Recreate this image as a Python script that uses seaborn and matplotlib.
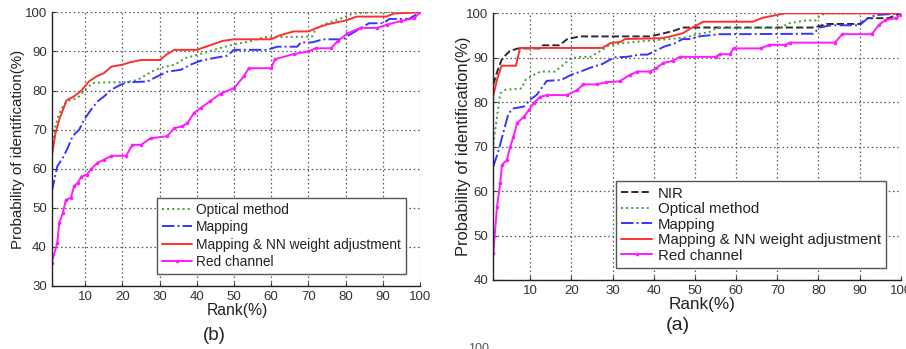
import numpy as np
import pandas as pd
import matplotlib
matplotlib.use("Agg")
import matplotlib.pyplot as plt
import seaborn as sns

# ---------------- data: panel (b) (left) ----------------
b_opt_x = [1, 2, 3, 4, 5, 8, 10, 12, 16, 21, 24, 25, 28, 30, 34, 37, 40, 43, 46, 50, 54, 58, 71, 72, 75, 79, 82, 88, 100]
b_opt_y = [64, 71, 74, 76, 77.2, 78.1, 80.2, 81.9, 82.1, 82.1, 82.7, 83.2, 84.9, 85.7, 86.6, 88.3, 89.1, 89.9, 90.8, 91.8, 92.5, 93.6, 93.8, 95.9, 97.2, 98.5, 99.7, 100, 100]

b_map_x = [1, 2.5, 4, 5.3, 6.6, 8.4, 9.7, 11.5, 13.3, 15.1, 17, 19.6, 21.4, 26.7, 29.4, 32, 35.7, 38.3, 41, 44.6, 48.2, 50, 59, 61.6, 67, 68, 71, 74, 79.5, 81, 83.6, 86.3, 90, 91.8, 97, 100]
b_map_y = [54, 60.6, 62.8, 65.3, 68.3, 70, 72.5, 75, 77.2, 78.5, 80.2, 81.5, 82.1, 82.3, 83.6, 84.8, 85.3, 86.6, 87.6, 88.3, 88.9, 90.4, 90.4, 91.2, 91.2, 92.3, 92.3, 93.1, 93.1, 94.2, 95.7, 97.2, 97.2, 98.3, 98.3, 100]

b_nn_x = [1, 2, 3, 5, 7, 9, 11, 13, 15, 17, 20, 22, 25, 30, 32, 34, 40, 44, 47, 50, 60, 62, 66, 70, 72, 75, 80, 83, 91, 93, 100]
b_nn_y = [63, 69, 72.5, 77.5, 78.5, 80, 82.3, 83.6, 84.4, 86.1, 86.6, 87.2, 87.8, 87.8, 89.3, 90.4, 90.4, 91.7, 92.7, 93.1, 93.1, 94, 95.1, 95.1, 95.9, 96.9, 97.9, 98.9, 98.9, 99.7, 100]

b_red_x = [1, 2.5, 3, 4, 4.8, 6.2, 7, 8, 9, 10.5, 11.5, 13.3, 15, 17, 21, 22.7, 25, 27.6, 32, 34, 36, 37.5, 39.2, 41, 43.5, 46.4, 50, 52.6, 54, 60, 61, 66, 70, 72, 76, 78, 80.5, 84, 88.5, 91, 95, 98.5, 100]
b_red_y = [36, 41, 46, 48.7, 52, 52.6, 55.5, 56.4, 58, 58.5, 59.8, 61.5, 62.3, 63.3, 63.3, 66.1, 66.1, 67.8, 68.3, 70.4, 70.8, 71.7, 74.2, 75.5, 77.2, 79.2, 80.6, 83.6, 85.7, 85.7, 88, 89.3, 90, 90.8, 90.8, 92.7, 94.6, 96, 96, 96.8, 97.8, 98.5, 100]

# ---------------- data: panel (a) (right) ----------------
a_nir_x = [1, 2, 3, 4, 5, 7, 12.4, 13, 17, 19, 22, 39, 42, 45, 47, 71, 79, 82, 90, 92, 97, 100]
a_nir_y = [84, 87, 89.5, 90.6, 91.5, 92.1, 92.1, 92.8, 92.8, 94.2, 94.8, 94.8, 95.4, 96.1, 96.8, 96.8, 96.8, 97.6, 97.6, 98.9, 98.9, 100]

a_opt_x = [1, 2, 2.7, 4, 7.9, 8.8, 10.5, 12.5, 16, 18, 19.7, 22, 24.5, 26.5, 29, 31.7, 35.7, 41, 44, 48, 50.5, 53.6, 55.2, 71, 72.5, 77, 79.4, 80.5, 82, 100]
a_opt_y = [70.5, 77.5, 82, 82.8, 83.1, 85, 86, 86.9, 86.9, 88.4, 89.8, 90.2, 90.2, 91.2, 92.7, 93.2, 93.6, 94, 94.2, 94.6, 95.3, 95.8, 96.7, 96.7, 97.7, 98.4, 98.4, 99.6, 100, 100]

a_map_x = [1, 2.3, 3.5, 4.7, 5.9, 8.4, 9.8, 11.5, 14, 17.5, 19.8, 22.5, 24.7, 27.5, 30.4, 33.5, 36.5, 38.4, 40.1, 42.5, 45, 47, 49, 51, 56, 60, 78.8, 80.3, 83, 90, 92, 94, 100]
a_map_y = [65.5, 69.2, 73.4, 77.5, 78.6, 79, 80.5, 81.6, 84.8, 85, 86.1, 87, 87.8, 88.6, 90.1, 90.2, 90.7, 90.7, 91.4, 92.5, 93.2, 94.2, 94.2, 94.8, 95.3, 95.3, 95.4, 96.8, 97.3, 97.3, 98.9, 99.6, 100]

a_nn_x = [1, 2, 3, 6.5, 7.5, 27.5, 29.5, 32, 33, 42, 44, 47, 49, 52, 64, 66.5, 69.8, 72, 100]
a_nn_y = [81.5, 85.4, 88.2, 88.2, 92.2, 92.2, 93.3, 93.6, 94.2, 94.4, 94.8, 95.5, 96.6, 98.1, 98.1, 99, 99.6, 100, 100]

a_red_x = [1, 1.9, 2.7, 3.1, 4.3, 5.1, 5.9, 6.8, 8.4, 9.6, 10.8, 12.4, 14.1, 18.9, 21.3, 22.9, 26.1, 28.5, 31.7, 34.1, 36, 39, 40.6, 42.2, 44.6, 46.3, 55, 56, 58.5, 59.4, 66, 68, 72, 73, 84, 85.8, 93, 94.7, 96.3, 98.8, 100]
a_red_y = [46, 56.5, 61.8, 65.9, 67, 70, 72.2, 75.3, 76.7, 78.2, 79.8, 81.2, 81.6, 81.6, 82.7, 84, 84, 84.5, 84.7, 86.1, 86.9, 86.9, 87.6, 88.8, 89.3, 90.2, 90.2, 90.8, 90.8, 92.1, 92.1, 92.9, 92.9, 93.4, 93.4, 95.3, 95.3, 97.4, 98.5, 98.9, 99.6]

x_ticks = [10, 20, 30, 40, 50, 60, 70, 80, 90, 100]
b_yticks = [30, 40, 50, 60, 70, 80, 90, 100]
a_yticks = [40, 50, 60, 70, 80, 90, 100]

LBL_NIR = "NIR"
LBL_OPT = "Optical method"
LBL_MAP = "Mapping"
LBL_NN = "Mapping & NN weight adjustment"
LBL_RED = "Red channel"

# ---------------- style ----------------
sns.set_style("white")
plt.rcParams["font.family"] = ["Liberation Sans", "DejaVu Sans"]

C_NIR = "#2b2b2b"
C_OPT = "#3a9e3a"
C_MAP = "#3535ff"
C_NN = "#ff2f2f"
C_RED = "#ff1aff"

fig = plt.figure(figsize=(9.06, 3.49), dpi=100)
W, H = 906.0, 349.0
axb = fig.add_axes([51.7 / W, 1 - 286 / H, (420 - 51.7) / W, (286 - 12.3) / H])
axa = fig.add_axes([493.3 / W, 1 - 280 / H, (900.7 - 493.3) / W, (280 - 13.3) / H])


def draw(ax, x, y, color, ls, label, marker=None):
    df = pd.DataFrame({"rank": x, "prob": y})
    kw = dict(data=df, x="rank", y="prob", ax=ax, color=color, label=label,
              estimator=None, sort=False, linewidth=1.4, linestyle=ls)
    if marker:
        kw.update(marker=marker, markersize=2.6, markeredgewidth=0)
    sns.lineplot(**kw)


draw(axb, b_opt_x, b_opt_y, C_OPT, ":", LBL_OPT)
draw(axb, b_map_x, b_map_y, C_MAP, "-.", LBL_MAP)
draw(axb, b_nn_x, b_nn_y, C_NN, "-", LBL_NN)
draw(axb, b_red_x, b_red_y, C_RED, "-", LBL_RED, marker="o")

draw(axa, a_nir_x, a_nir_y, C_NIR, "--", LBL_NIR)
draw(axa, a_opt_x, a_opt_y, C_OPT, ":", LBL_OPT)
draw(axa, a_map_x, a_map_y, C_MAP, "-.", LBL_MAP)
draw(axa, a_nn_x, a_nn_y, C_NN, "-", LBL_NN)
draw(axa, a_red_x, a_red_y, C_RED, "-", LBL_RED, marker="o")

for ax, yt, fs_tick, fs_lab in ((axb, b_yticks, 9.5, 11.3), (axa, a_yticks, 9.5, 12.3)):
    ax.set_xlim(1, 100)
    ax.set_ylim(yt[0], 100)
    ax.set_xticks(x_ticks)
    ax.set_yticks(yt)
    ax.grid(True, linestyle=(0, (1.2, 2.2)), color="#555555", linewidth=0.9)
    ax.tick_params(direction="in", length=3, labelsize=fs_tick, labelcolor="#333333",
                   color="#333333", bottom=True, left=True)
    for s in ("top", "right"):
        ax.spines[s].set_visible(False)
    for s in ("left", "bottom"):
        ax.spines[s].set_color("#222222")
        ax.spines[s].set_linewidth(1.0)
    ax.set_xlabel("Rank(%)", fontsize=fs_lab, color="#222222")
    ax.set_ylabel("Probability of identification(%)", fontsize=fs_lab - 0.4, color="#222222")

axb.xaxis.set_label_coords(0.503, -0.062)
axb.yaxis.set_label_coords(-0.073, 0.5)
axa.xaxis.set_label_coords(0.512, -0.064)
axa.yaxis.set_label_coords(-0.055, 0.5)

legb = axb.legend(loc="lower right", bbox_to_anchor=(0.962, 0.044), fontsize=9.9,
                  frameon=True, fancybox=False, handlelength=2.2, handletextpad=0.3,
                  labelspacing=0.25, borderpad=0.35, borderaxespad=0)
lega = axa.legend(loc="lower right", bbox_to_anchor=(0.964, 0.045), fontsize=10.8,
                  frameon=True, fancybox=False, handlelength=2.1, handletextpad=0.35,
                  labelspacing=0.1, borderpad=0.35, borderaxespad=0)
for lg in (legb, lega):
    fr = lg.get_frame()
    fr.set_edgecolor("#555555")
    fr.set_linewidth(1.0)
    fr.set_alpha(1)
    for t in lg.get_texts():
        t.set_color("#222222")

fig.text(214 / W, 1 - 335 / H, "(b)", fontsize=13.5, ha="center", va="center", color="#222222")
fig.text(678 / W, 1 - 326 / H, "(a)", fontsize=14, ha="center", va="center", color="#222222")
fig.text(468 / W, 1 - 352 / H, "100", fontsize=9, ha="left", va="baseline", color="#555555")

fig.savefig("out.png", dpi=100)
